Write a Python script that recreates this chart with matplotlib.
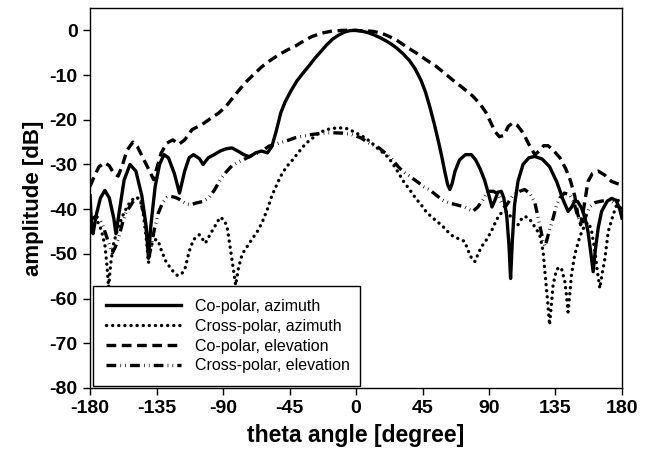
import numpy as np
import matplotlib
matplotlib.use("Agg")
import matplotlib.pyplot as plt

plt.rcParams['font.family'] = ['Liberation Sans', 'DejaVu Sans']
plt.rcParams['lines.scale_dashes'] = False
plt.rcParams['axes.unicode_minus'] = False

# Co-polar, azimuth (solid)
co_az_theta = [-180, -179, -178, -176, -173, -170, -167, -164, -162.5, -160, -157, -153, -149, -145, -142,
               -140.5, -139, -136, -133, -130, -127, -123, -119.5, -116, -113, -110, -106, -103.5, -100,
               -96, -92, -88, -84, -80, -76, -72, -68, -64, -60, -57, -54, -51, -48, -44, -40, -36, -32,
               -28, -24, -20, -16, -12, -8, -4, 0, 4, 8, 12, 16, 20, 24, 28, 32, 36, 40, 44, 47, 50, 53,
               56, 58, 60, 62, 63.5, 65, 67, 70, 74, 78, 81, 84, 87, 90, 92, 94, 96, 98.3, 100, 102,
               103.5, 104.6, 105.8, 107.3, 109.6, 113, 117, 121, 126, 131, 136, 140, 143.5, 146, 148,
               150, 152.6, 155, 157, 159, 160.5, 162, 164, 166.2, 170, 173, 176, 178.5, 180]
co_az_db = [-37, -44, -45.5, -41.5, -37.5, -35.8, -37.5, -42, -45.5, -40, -33.5, -30, -31.5, -37, -44,
            -51, -44, -35, -30, -27.8, -28.5, -32, -36.4, -31.5, -28.5, -27.8, -28.7, -30, -28.5,
            -27.8, -27, -26.5, -26.3, -27, -27.8, -28.3, -27.4, -27, -27.4, -26, -22.5, -18.5, -16,
            -13.5, -11.3, -9.6, -8, -6.3, -4.8, -3.3, -2, -1.1, -0.4, -0.05, 0, -0.2, -0.5, -1.0,
            -1.6, -2.3, -3.1, -4.1, -5.3, -6.7, -8.6, -11.2, -13.8, -17.2, -21, -25.2, -28.2, -31.5,
            -34.5, -35.6, -34.3, -31.5, -29, -27.8, -27.8, -29, -31, -33.5, -37, -39.5, -38, -36.2,
            -36, -37.5, -41.5, -48, -55.5, -47, -39, -33.8, -30, -28.5, -28.2, -28.8, -30.5, -34,
            -37.8, -40.5, -39.5, -38.2, -38.3, -39.7, -42, -45, -50, -54, -49, -44, -40.5, -38.2,
            -37.6, -38, -40, -42]

# Cross-polar, azimuth (dotted)
x_az_theta = [-180, -176, -172.5, -170, -168.5, -167.5, -166, -164, -161, -158, -155, -152, -148.5, -146,
              -144, -142, -140.5, -138.5, -136, -134, -132, -129, -125, -121, -118, -115.5, -113, -110,
              -106, -102, -98.5, -95, -92, -89, -87, -85, -83, -81.5, -79.5, -77, -74, -70, -66, -63,
              -60, -57, -54, -51, -47, -43, -39, -34, -29, -25, -20, -15, -11, -6, -2, 2, 6, 10, 15.6,
              20, 24, 28, 32.5, 36, 40.5, 44, 47.3, 51, 55, 58.6, 62, 65.4, 70, 73.4, 76.8, 79, 80.5,
              82, 84.7, 88, 91.5, 94.5, 97.1, 100, 103, 106, 109.6, 112, 114.1, 117, 120.9, 124.3,
              126.6, 128, 129.5, 131, 132.3, 133.4, 135.6, 137.5, 139, 141.3, 142.5, 143.5, 144.8,
              145.8, 148, 151.5, 154.9, 157.5, 159.5, 161.5, 163, 165, 166.8, 168.5, 170.7, 174.1,
              177.5, 180]
x_az_db = [-41, -42, -44.6, -48, -53, -57.5, -52, -47.5, -44, -41.5, -39.5, -38, -37.3, -38, -41,
           -46.5, -52, -48, -46.8, -47, -49, -51.5, -53.5, -54.8, -54.5, -53, -49.5, -46.8, -45.7,
           -47.6, -45.5, -43.5, -41.8, -42.5, -44.5, -49, -53.5, -57, -53, -50, -48.5, -46.5, -44.6,
           -42.5, -40, -37, -34.8, -32.6, -30.5, -29, -27.3, -25.3, -24, -22.9, -22.2, -21.9, -21.8,
           -22, -22.6, -23.3, -24, -25, -26.7, -27.8, -29.4, -31.5, -34, -35.5, -37.6, -39, -40.5,
           -41.7, -42.8, -43.8, -45, -46, -46.7, -47.2, -50, -51.5, -51.7, -50.5, -48.5, -47, -45,
           -42.8, -41.2, -40.5, -40.7, -42.5, -43.5, -42.2, -41.6, -42, -43.9, -45.7, -49.4, -54.7,
           -59.9, -65.9, -61, -56.9, -53.6, -53, -53.2, -56.2, -59.5, -63, -58.5, -54.7, -50.2,
           -46.1, -43.5, -43, -45, -49, -53, -57.7, -54, -50.9, -45, -41.2, -38, -37.5]

# Co-polar, elevation (dashed)
co_el_theta = [-180, -177, -174, -170, -167, -164, -161, -158, -155, -151, -148, -145, -142, -139, -137,
               -135, -132, -128, -124, -120, -116, -111, -104, -98, -93, -88, -82, -75, -70, -64, -58,
               -52, -46, -41, -35, -30, -23, -16, -9, -2, 5, 11, 17, 22, 27, 32, 36, 40.5, 47, 54, 60,
               65, 72, 79, 84, 88, 91, 94, 97, 100, 103, 106, 109, 113, 117, 121, 124, 127, 130, 134,
               138, 142, 145, 148, 150, 152, 154, 157, 160, 164, 168, 173, 177, 180]
co_el_db = [-34.9, -32.5, -30.5, -29.6, -30.3, -32, -32.6, -30, -26.8, -25, -26, -28, -30, -32, -33.4,
            -31, -27.5, -25.2, -24.5, -25.5, -24.5, -22.2, -21, -19.6, -18.5, -17, -14.5, -11.7,
            -10.1, -8.2, -6.7, -5.4, -4.3, -3.5, -2.3, -1.4, -0.6, -0.15, 0, 0, -0.1, -0.2, -0.6,
            -1.3, -2.1, -3.2, -4.1, -5, -6.5, -8, -9.6, -11, -12.8, -14.7, -16.5, -18.4, -20.5,
            -22.6, -23.8, -23.5, -21.5, -20.7, -21.2, -22.9, -25.5, -27.8, -27, -25.8, -25.8, -27,
            -28.5, -31, -33.5, -37, -41, -43.5, -40, -33.8, -32, -31.5, -32.3, -33.8, -34.3, -34.5]

# Cross-polar, elevation (dash-dot-dot)
x_el_theta = [-180, -176, -173, -171, -168, -165, -163, -161, -158, -155.5, -153, -150, -148, -146, -144,
              -142, -140, -138.5, -136.5, -134, -131, -128, -126, -122, -119, -115, -112, -108, -104,
              -100, -96, -92, -88, -84, -80, -76, -71, -66, -62, -59, -52, -46, -41, -35, -30, -23,
              -16, -9, -3, 3, 8.8, 15.6, 20, 24.7, 28, 31.5, 37, 42, 46, 49.6, 54, 58.6, 63, 67.7,
              73.4, 79, 82.5, 85.8, 88, 90.3, 93, 95, 97, 99, 101, 103, 106, 110.7, 114, 117.5, 121,
              124.3, 126.5, 128, 130, 133.4, 135.6, 138, 141, 144.7, 147.5, 150, 152.5, 155, 158, 162,
              166, 170, 173, 176.4, 180]
x_el_db = [-42.4, -41.6, -42.5, -44, -47, -49.8, -48.5, -46.8, -43, -40.5, -39.4, -37.8, -37.5, -38.2,
           -40.5, -44.5, -50.5, -48, -44.5, -41, -38.6, -37.4, -37.1, -37.4, -37.9, -38.8, -39, -38.6,
           -38.3, -37.6, -35.8, -33.5, -31.7, -30.3, -29.5, -28.9, -28, -27.4, -26.6, -25.9, -25.2,
           -24.6, -24, -23.6, -23.3, -23, -22.9, -23, -23.3, -24, -25.2, -26.3, -27.5, -28.9, -30.3,
           -31.5, -32.8, -34, -35, -35.6, -36.8, -38, -38.6, -39, -39.5, -40.5, -39.5, -37.9, -36.6,
           -36, -36, -36.4, -37.4, -39, -39.5, -38.5, -37, -36, -35.6, -36.4, -38.5, -43.5, -47,
           -48.3, -45.8, -42, -39.2, -37.5, -36.4, -36.8, -38.5, -41.5, -43.5, -42, -39.5, -38.5,
           -38.2, -38, -38.2, -39, -40]

x_ticks = [-180, -135, -90, -45, 0, 45, 90, 135, 180]
y_ticks = [-80, -70, -60, -50, -40, -30, -20, -10, 0]

fig = plt.figure(figsize=(6.53, 4.65), dpi=100)
ax = fig.add_axes([0.138, 0.1656, 0.8145, 0.8172])

lw = 2.4
ax.plot(co_az_theta, co_az_db, color='black', lw=lw, label='Co-polar, azimuth')
ax.plot(x_az_theta, x_az_db, color='black', lw=lw, dashes=(0.1, 4.3),
        dash_capstyle='round', label='Cross-polar, azimuth')
ax.plot(co_el_theta, co_el_db, color='black', lw=lw, dashes=(7, 4), label='Co-polar, elevation')
ax.plot(x_el_theta, x_el_db, color='black', lw=lw, dashes=(7, 3, 0.5, 3, 0.5, 3),
        label='Cross-polar, elevation')

ax.set_xlim(-180, 180)
ax.set_ylim(-80, 5)
ax.set_xticks(x_ticks)
ax.set_yticks(y_ticks)
ax.tick_params(direction='out', length=5, width=1, labelsize=14, pad=4)
for lab in ax.get_xticklabels() + ax.get_yticklabels():
    lab.set_fontweight('bold')
for s in ax.spines.values():
    s.set_linewidth(1)

ax.set_xlabel('theta angle [degree]', fontsize=16.5, fontweight='bold', labelpad=5)
ax.set_ylabel('amplitude [dB]', fontsize=16, fontweight='bold', labelpad=4)

leg = ax.legend(loc='lower left', bbox_to_anchor=(0.006, 0.005, 0.502, 0.26), mode='expand',
                fontsize=11.5, handlelength=4.7, handletextpad=0.85, labelspacing=0.3,
                borderpad=0.8, fancybox=False, framealpha=1, borderaxespad=0)
leg.get_frame().set_edgecolor('black')
leg.get_frame().set_linewidth(1)

fig.savefig('out.png', dpi=100)
